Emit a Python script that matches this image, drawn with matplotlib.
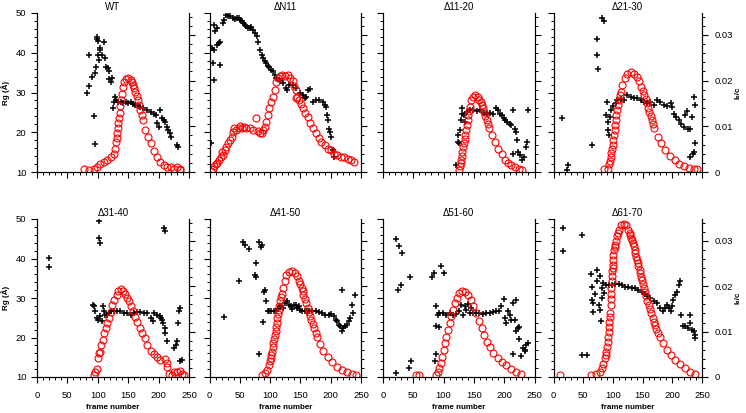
import numpy as np
import matplotlib.pyplot as plt
from matplotlib.ticker import MultipleLocator

plt.rcParams['font.family'] = ['Liberation Sans', 'DejaVu Sans']
plt.rcParams['font.size'] = 6.8

titles = ['WT', 'ΔN11', 'Δ11-20', 'Δ21-30', 'Δ31-40', 'Δ41-50', 'Δ51-60', 'Δ61-70']

# WT
wt_rg_frame = [83, 85, 86, 91, 93, 95, 96, 97, 98, 99, 100, 101, 102, 103, 104, 107, 110, 112, 114,
               116, 118, 119, 122, 123, 125, 127, 129, 130, 134, 138, 142, 146, 150, 154, 158, 162,
               166, 170, 175, 181, 187, 192, 195, 198, 200, 202, 205, 209, 211, 213, 216, 219, 221,
               231, 232]
wt_rg = [30.0, 39.5, 31.6, 33.8, 24.1, 17.0, 35.0, 36.5, 43.9, 43.4, 39.5, 42.9, 38.2, 41.2, 40.7,
         39.5, 42.6, 38.6, 36.5, 36.1, 35.3, 33.3, 32.7, 33.6, 26.0, 27.7, 28.9, 28.1, 27.7, 27.5,
         27.4, 27.6, 27.3, 27.5, 27.0, 26.8, 26.5, 26.3, 26.0, 25.6, 25.2, 24.7, 24.3, 22.4, 21.4,
         25.6, 23.5, 23.1, 22.6, 21.4, 20.5, 19.7, 18.8, 16.7, 16.3]
wt_i0_frame = [77, 86, 94, 99, 104, 110, 115, 121, 126, 129, 130, 131, 132, 133, 134, 135, 136, 137,
               138, 139, 141, 143, 147, 150, 154, 156, 158, 160, 162, 164, 166, 168, 170, 172, 175,
               178, 182, 187, 192, 198, 203, 209, 214, 221, 225, 231, 235, 236]
wt_i0 = [0.0007, 0.0005, 0.0007, 0.0011, 0.0017, 0.0022, 0.0027, 0.0033, 0.0040, 0.0051, 0.0066,
         0.0075, 0.0085, 0.0096, 0.0107, 0.0118, 0.0129, 0.0145, 0.0158, 0.0170, 0.0186, 0.0197,
         0.0204, 0.0205, 0.0202, 0.0197, 0.0191, 0.0184, 0.0176, 0.0167, 0.0158, 0.0147, 0.0136,
         0.0125, 0.0114, 0.0092, 0.0077, 0.0063, 0.0046, 0.0033, 0.0022, 0.0015, 0.0010, 0.0011,
         0.0007, 0.0011, 0.0007, 0.0004]

# dN11
n11_rg_frame = [2, 4, 5, 7, 8, 7, 9, 12, 13, 15, 17, 18, 22, 24, 27, 30, 34, 38, 42, 45, 48, 50, 53,
                56, 58, 61, 64, 67, 69, 72, 75, 78, 80, 83, 86, 89, 91, 94, 97, 99, 102, 105, 108,
                110, 116, 121, 126, 128, 132, 138, 143, 149, 154, 157, 160, 162, 166, 170, 176, 181,
                187, 190, 192, 194, 195, 197, 199, 200, 203, 206]
n11_rg = [17.2, 41.2, 37.5, 33.2, 40.7, 47.1, 45.4, 46.2, 42.0, 42.4, 42.8, 37.0, 47.5, 48.3, 49.6,
          49.3, 49.2, 48.7, 48.5, 48.7, 48.7, 48.3, 47.9, 47.5, 47.1, 46.8, 46.2, 46.2, 46.6, 45.8,
          44.9, 44.1, 42.8, 40.7, 39.5, 38.6, 38.0, 37.5, 36.7, 36.5, 35.7, 35.3, 34.4, 33.6, 33.0,
          32.3, 31.1, 30.6, 31.9, 31.9, 31.1, 29.8, 29.4, 28.5, 28.9, 30.6, 30.8, 27.7, 28.1, 28.1,
          27.7, 26.8, 26.4, 24.3, 23.1, 20.9, 20.1, 18.8, 15.5, 13.8]
n11_i0_frame = [2, 5, 8, 11, 13, 16, 19, 20, 23, 26, 28, 31, 34, 37, 38, 40, 44, 48, 50, 53, 57, 61,
                67, 72, 77, 80, 83, 86, 89, 91, 94, 97, 99, 102, 105, 108, 110, 113, 116, 120, 124,
                130, 133, 137, 140, 143, 142, 144, 148, 151, 154, 158, 162, 166, 170, 176, 180, 184,
                190, 195, 200, 206, 211, 217, 222, 228, 233, 239]
n11_i0 = [0.0002, 0.0007, 0.0013, 0.0017, 0.0020, 0.0026, 0.0033, 0.0044, 0.0037, 0.0048, 0.0055,
          0.0063, 0.0070, 0.0077, 0.0088, 0.0096, 0.0092, 0.0096, 0.0101, 0.0097, 0.0098, 0.0097,
          0.0096, 0.0092, 0.0118, 0.0090, 0.0086, 0.0086, 0.0092, 0.0099, 0.0110, 0.0125, 0.0140,
          0.0154, 0.0165, 0.0180, 0.0196, 0.0206, 0.0211, 0.0213, 0.0211, 0.0213, 0.0206, 0.0199,
          0.0189, 0.0180, 0.0162, 0.0165, 0.0158, 0.0149, 0.0140, 0.0130, 0.0121, 0.0108, 0.0096,
          0.0085, 0.0074, 0.0066, 0.0059, 0.0051, 0.0049, 0.0040, 0.0037, 0.0033, 0.0032, 0.0029,
          0.0027, 0.0022]

# d11-20
d11_rg_frame = [120, 123, 124, 126, 127, 128, 130, 131, 134, 135, 138, 143, 149, 155, 160, 166, 171,
                177, 182, 187, 190, 193, 196, 199, 201, 204, 210, 212, 215, 217, 220, 221, 214, 223,
                226, 229, 233, 236, 237, 240]
d11_rg = [11.7, 19.3, 17.6, 17.2, 20.5, 23.1, 26.0, 24.7, 24.3, 22.6, 25.2, 25.7, 25.6, 25.3, 25.6,
          24.9, 24.6, 24.9, 24.7, 26.0, 25.6, 24.7, 24.3, 23.5, 23.2, 22.6, 22.2, 21.8, 25.6, 20.9,
          20.1, 18.0, 14.6, 15.1, 14.2, 12.9, 13.8, 16.3, 17.6, 25.6]
d11_i0_frame = [126, 127, 128, 129, 130, 131, 132, 134, 135, 136, 137, 139, 140, 141, 142, 143, 146,
                149, 152, 156, 159, 161, 163, 165, 167, 169, 171, 173, 175, 180, 185, 190, 196, 201,
                207, 212, 218, 224, 229]
d11_i0 = [0.0004, 0.0013, 0.0019, 0.0026, 0.0035, 0.0044, 0.0054, 0.0063, 0.0072, 0.0081, 0.0092,
          0.0103, 0.0114, 0.0125, 0.0134, 0.0143, 0.0158, 0.0165, 0.0169, 0.0165, 0.0158, 0.0153,
          0.0147, 0.0140, 0.0132, 0.0123, 0.0114, 0.0105, 0.0096, 0.0081, 0.0066, 0.0051, 0.0039,
          0.0027, 0.0020, 0.0015, 0.0011, 0.0007, 0.0005]

# d21-30
d21_rg_frame = [15, 23, 25, 65, 73, 74, 75, 82, 85, 88, 90, 92, 92, 93, 95, 97, 100, 105, 107, 113,
                119, 124, 130, 135, 141, 147, 152, 158, 163, 169, 175, 180, 186, 191, 197, 200, 203,
                207, 211, 215, 219, 222, 225, 226, 229, 230, 233, 235, 236, 237, 238, 239]
d21_rg = [23.7, 10.6, 11.7, 16.7, 43.4, 39.5, 35.9, 48.7, 48.1, 24.3, 27.7, 22.6, 20.5, 19.3, 23.9,
          25.6, 26.6, 27.3, 28.1, 28.3, 28.1, 29.4, 28.9, 28.5, 28.5, 28.1, 27.7, 27.3, 27.7, 26.8,
          28.1, 27.7, 26.8, 26.6, 27.3, 26.4, 24.7, 23.9, 23.1, 22.0, 21.4, 24.3, 25.4, 20.9, 20.9,
          13.8, 23.9, 14.6, 15.1, 28.9, 26.8, 17.2]
d21_i0_frame = [85, 92, 94, 95, 96, 97, 98, 100, 101, 102, 103, 104, 105, 106, 107, 109, 110, 112,
                113, 116, 120, 124, 130, 135, 140, 144, 148, 150, 152, 155, 157, 159, 161, 164, 166,
                168, 170, 176, 181, 188, 196, 204, 211, 219, 228, 236, 242]
d21_i0 = [0.0006, 0.0007, 0.0017, 0.0025, 0.0033, 0.0042, 0.0051, 0.0060, 0.0070, 0.0081, 0.0092,
          0.0103, 0.0114, 0.0125, 0.0136, 0.0147, 0.0158, 0.0168, 0.0176, 0.0191, 0.0206, 0.0215,
          0.0218, 0.0215, 0.0208, 0.0199, 0.0186, 0.0178, 0.0169, 0.0160, 0.0151, 0.0141, 0.0132,
          0.0123, 0.0114, 0.0105, 0.0096, 0.0077, 0.0063, 0.0048, 0.0035, 0.0026, 0.0018, 0.0013,
          0.0009, 0.0007, 0.0006]

# d31-40
d31_rg_frame = [19, 20, 92, 94, 96, 98, 100, 102, 102, 104, 104, 107, 108, 111, 112, 115, 118, 121,
                126, 132, 137, 143, 148, 154, 159, 165, 170, 176, 181, 187, 190, 192, 198, 202, 204,
                206, 208, 209, 210, 210, 211, 213, 225, 228, 231, 232, 234, 236, 236, 239]
d31_rg = [37.8, 40.1, 28.3, 27.9, 26.6, 24.9, 24.5, 49.4, 45.2, 43.9, 25.4, 24.1, 27.9, 26.6, 25.8,
          25.8, 26.2, 26.6, 26.8, 26.8, 26.6, 26.2, 26.2, 25.8, 26.2, 26.5, 26.5, 26.2, 26.2, 24.9,
          24.1, 26.2, 25.8, 25.4, 24.9, 24.5, 23.7, 47.7, 46.9, 22.4, 21.1, 19.0, 17.3, 18.2, 19.0,
          23.7, 26.6, 27.5, 14.0, 14.4]
d31_i0_frame = [94, 96, 99, 100, 102, 104, 106, 108, 111, 113, 115, 118, 121, 124, 127, 131, 134, 138,
                142, 145, 148, 151, 155, 158, 161, 165, 169, 173, 177, 181, 187, 192, 198, 203, 210,
                213, 214, 217, 222, 226, 231, 235, 239, 241]
d31_i0 = [0.0005, 0.0012, 0.0018, 0.0042, 0.0053, 0.0056, 0.0071, 0.0082, 0.0097, 0.0108, 0.0119,
          0.0130, 0.0144, 0.0159, 0.0170, 0.0181, 0.0190, 0.0194, 0.0190, 0.0183, 0.0175, 0.0167,
          0.0156, 0.0145, 0.0133, 0.0122, 0.0108, 0.0097, 0.0086, 0.0071, 0.0058, 0.0051, 0.0045,
          0.0038, 0.0040, 0.0031, 0.0021, 0.0007, 0.0005, 0.0012, 0.0012, 0.0014, 0.0007, 0.0005]

# d41-50
d41_rg_frame = [24, 49, 55, 58, 65, 76, 75, 77, 81, 82, 85, 86, 88, 90, 92, 93, 97, 99, 102, 106, 109,
                113, 117, 121, 125, 128, 131, 134, 136, 139, 142, 145, 147, 150, 153, 157, 161, 165,
                169, 175, 180, 186, 191, 197, 201, 205, 208, 210, 213, 216, 218, 219, 221, 224, 227,
                230, 232, 235, 236, 240]
d41_rg = [25.1, 34.4, 44.2, 43.3, 42.5, 38.9, 35.9, 35.2, 15.8, 44.2, 42.8, 43.3, 23.9, 31.5, 32.1,
          29.2, 26.8, 26.6, 26.8, 26.6, 26.8, 27.3, 27.9, 27.5, 28.7, 29.3, 28.3, 27.9, 27.3, 28.3,
          28.3, 27.5, 27.9, 27.0, 26.6, 26.8, 26.6, 26.8, 26.8, 26.6, 26.5, 26.2, 25.8, 25.6, 26.0,
          25.4, 24.5, 24.1, 23.2, 22.8, 32.1, 21.6, 22.4, 22.8, 23.2, 24.1, 24.9, 28.3, 26.2, 30.8]
d41_i0_frame = [87, 92, 95, 98, 100, 101, 102, 103, 104, 105, 107, 108, 109, 110, 111, 112, 113, 114,
                115, 116, 118, 119, 121, 124, 127, 132, 136, 141, 145, 148, 150, 152, 154, 155, 157,
                159, 162, 164, 166, 168, 171, 173, 175, 177, 183, 188, 196, 202, 210, 219, 227, 235,
                241]
d41_i0 = [0.0005, 0.0009, 0.0016, 0.0027, 0.0035, 0.0042, 0.0049, 0.0056, 0.0066, 0.0075, 0.0084,
          0.0093, 0.0102, 0.0111, 0.0120, 0.0130, 0.0139, 0.0148, 0.0157, 0.0167, 0.0176, 0.0183,
          0.0197, 0.0212, 0.0224, 0.0231, 0.0233, 0.0229, 0.0222, 0.0211, 0.0204, 0.0197, 0.0189,
          0.0181, 0.0172, 0.0163, 0.0153, 0.0144, 0.0135, 0.0126, 0.0117, 0.0108, 0.0098, 0.0089,
          0.0073, 0.0058, 0.0045, 0.0034, 0.0023, 0.0016, 0.0010, 0.0007, 0.0004]

# d51-60
d51_rg_frame = [21, 25, 26, 29, 32, 21, 43, 44, 47, 81, 84, 85, 87, 88, 88, 91, 92, 93, 96, 100, 99,
                104, 110, 115, 121, 125, 129, 132, 135, 137, 140, 143, 146, 149, 154, 159, 165, 170,
                176, 181, 187, 192, 195, 199, 201, 203, 206, 209, 212, 214, 215, 217, 220, 220, 223,
                224, 225, 228, 231, 234, 235, 236, 239]
d51_rg = [45.0, 31.9, 43.1, 33.4, 41.4, 11.0, 12.3, 35.2, 14.0, 35.2, 36.3, 14.0, 15.7, 22.8, 27.9,
          25.8, 22.6, 26.2, 38.0, 36.3, 26.2, 25.8, 26.2, 25.8, 26.0, 26.8, 28.3, 25.8, 27.9, 27.0,
          28.5, 26.2, 27.5, 26.2, 26.2, 26.2, 26.0, 26.2, 26.2, 26.5, 26.6, 26.8, 27.9, 29.8, 24.9,
          23.7, 26.6, 25.8, 24.5, 28.7, 15.7, 24.5, 29.6, 21.6, 22.4, 22.6, 19.5, 15.2, 17.3, 16.9,
          16.5, 18.2, 18.6]
d51_i0_frame = [54, 60, 88, 91, 93, 96, 98, 100, 102, 104, 107, 110, 113, 115, 119, 122, 126, 131, 136,
                141, 145, 149, 154, 158, 163, 167, 171, 177, 182, 189, 196, 203, 212, 220, 228]
d51_i0 = [0.0005, 0.0005, 0.0005, 0.0012, 0.0020, 0.0031, 0.0045, 0.0060, 0.0075, 0.0089, 0.0104,
          0.0119, 0.0134, 0.0148, 0.0163, 0.0175, 0.0185, 0.0189, 0.0187, 0.0181, 0.0170, 0.0156,
          0.0141, 0.0124, 0.0108, 0.0093, 0.0078, 0.0065, 0.0053, 0.0042, 0.0033, 0.0026, 0.0018,
          0.0012, 0.0007]

# d61-70
d61_rg_frame = [16, 16, 48, 48, 56, 63, 65, 65, 67, 67, 70, 73, 74, 76, 78, 79, 80, 81, 81, 84, 85, 89,
                93, 98, 104, 110, 115, 121, 126, 132, 138, 143, 149, 154, 158, 163, 169, 174, 180,
                184, 188, 191, 194, 197, 199, 202, 205, 208, 211, 213, 214, 218, 222, 226, 229, 230,
                233, 236, 239, 239]
d61_rg = [47.6, 41.8, 46.0, 15.5, 15.5, 36.1, 32.7, 29.6, 26.5, 28.7, 31.0, 37.2, 34.2, 28.3, 27.0,
          35.5, 24.1, 32.5, 30.0, 33.8, 31.3, 33.4, 33.4, 33.4, 33.5, 33.5, 33.4, 32.9, 32.7, 32.5,
          32.5, 32.1, 31.5, 31.0, 30.4, 30.0, 29.2, 28.7, 27.5, 26.8, 27.5, 28.3, 27.5, 26.8, 27.9,
          29.6, 30.8, 31.5, 33.4, 34.4, 25.8, 22.8, 23.0, 22.4, 25.8, 23.7, 22.0, 21.6, 20.7, 19.9]
d61_i0_frame = [11, 63, 72, 78, 81, 84, 87, 88, 89, 90, 91, 92, 93, 93.5, 94, 94.5, 95, 96, 96.5, 97,
                97.5, 98, 98.5, 99, 99.5, 100, 100.5, 101, 102, 103, 104, 105, 107, 108, 110, 113,
                118, 122, 126, 128, 129, 131, 132, 134, 135, 137, 138, 139, 140, 142, 143, 145, 146,
                148, 149, 151, 152, 154, 156, 158, 160, 162, 164, 167, 169, 171, 173, 176, 179, 184,
                191, 198, 205, 213, 222, 230, 239]
d61_i0 = [0.0005, 0.0005, 0.0007, 0.0012, 0.0020, 0.0029, 0.0042, 0.0049, 0.0056, 0.0067, 0.0078,
          0.0089, 0.0100, 0.0111, 0.0122, 0.0132, 0.0141, 0.0159, 0.0171, 0.0183, 0.0197, 0.0211,
          0.0222, 0.0233, 0.0240, 0.0247, 0.0258, 0.0269, 0.0280, 0.0287, 0.0291, 0.0300, 0.0310,
          0.0317, 0.0324, 0.0334, 0.0337, 0.0334, 0.0324, 0.0318, 0.0313, 0.0307, 0.0302, 0.0295,
          0.0288, 0.0280, 0.0273, 0.0265, 0.0258, 0.0251, 0.0244, 0.0236, 0.0229, 0.0221, 0.0214,
          0.0205, 0.0196, 0.0187, 0.0178, 0.0168, 0.0159, 0.0150, 0.0141, 0.0131, 0.0122, 0.0114,
          0.0106, 0.0097, 0.0089, 0.0075, 0.0060, 0.0048, 0.0038, 0.0029, 0.0020, 0.0012, 0.0007]

rg_frames = [wt_rg_frame, n11_rg_frame, d11_rg_frame, d21_rg_frame,
             d31_rg_frame, d41_rg_frame, d51_rg_frame, d61_rg_frame]
rg_values = [wt_rg, n11_rg, d11_rg, d21_rg, d31_rg, d41_rg, d51_rg, d61_rg]
i0_frames = [wt_i0_frame, n11_i0_frame, d11_i0_frame, d21_i0_frame,
             d31_i0_frame, d41_i0_frame, d51_i0_frame, d61_i0_frame]
i0_values = [wt_i0, n11_i0, d11_i0, d21_i0, d31_i0, d41_i0, d51_i0, d61_i0]

W, H = 746, 413
fig = plt.figure(figsize=(W / 100, H / 100), dpi=100)

lefts = [37, 209.5, 383, 553.5]
rights = [189, 361, 534.5, 702]
rows = [(13, 172), (219, 377)]

for k in range(8):
    r, c = divmod(k, 4)
    top, bot = rows[r]
    ax = fig.add_axes([lefts[c] / W, 1 - bot / H, (rights[c] - lefts[c]) / W, (bot - top) / H])
    ax2 = ax.twinx()

    ax.plot(rg_frames[k], rg_values[k], '+', color='black', ms=5, mew=1.1)
    ax2.plot(i0_frames[k], i0_values[k], 'o', mfc='none', mec='red', ms=5, mew=0.8)

    ax.set_xlim(0, 250)
    ax.set_ylim(10, 50)
    ax2.set_ylim(0, 0.0348)
    ax.xaxis.set_major_locator(MultipleLocator(50))
    ax.xaxis.set_minor_locator(MultipleLocator(10))
    ax.yaxis.set_major_locator(MultipleLocator(10))
    ax.yaxis.set_minor_locator(MultipleLocator(2))
    ax2.yaxis.set_major_locator(MultipleLocator(0.01))
    ax2.yaxis.set_minor_locator(MultipleLocator(0.002))

    for a in (ax, ax2):
        a.spines['top'].set_visible(False)
        for s in a.spines.values():
            s.set_linewidth(0.8)
        a.tick_params(which='major', direction='out', length=4, width=0.8)
        a.tick_params(which='minor', direction='out', length=2, width=0.7)

    ax.tick_params(axis='y', labelleft=(c == 0), pad=3.5)
    ax2.tick_params(axis='y', labelright=(c == 3), pad=5)
    ax.tick_params(axis='x', labelbottom=(r == 1), pad=6)
    ax2.set_yticks([0, 0.01, 0.02, 0.03])
    ax2.set_yticklabels(['0', '0.01', '0.02', '0.03'])

    ax.set_title(titles[k], fontsize=7, pad=2.5)
    if c == 0:
        ax.set_ylabel('Rg (Å)', fontweight='bold', fontsize=5.8)
        ax.yaxis.set_label_coords(-0.175, 0.5)
    if c == 3:
        ax2.set_ylabel('I₀/c', fontweight='bold', fontsize=5.8)
        ax2.yaxis.set_label_coords(1.22, 0.5)
    if r == 1:
        ax.set_xlabel('frame number', fontweight='bold', fontsize=5.8)
        ax.xaxis.set_label_coords(0.5, -0.17)

fig.savefig('out.png', dpi=100)
